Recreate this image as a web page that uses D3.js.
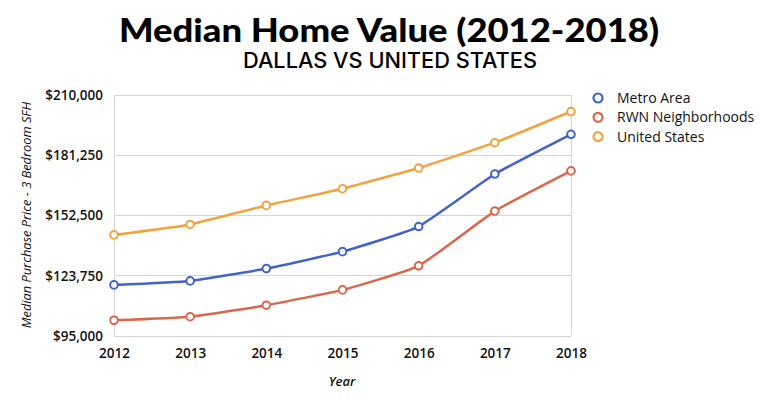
<!DOCTYPE html>
<html>
<head>
<meta charset="utf-8">
<script src="https://cdn.jsdelivr.net/npm/d3@7"></script>
<style>
  body { margin: 0; background: #fff; }
  svg { display: block; }
</style>
</head>
<body>
<svg id="chart" width="764" height="399"></svg>
<script>
// data
const years = [2012, 2013, 2014, 2015, 2016, 2017, 2018];
const metroArea = [119200, 121100, 127000, 135100, 147100, 172200, 191200];
const rwnNeighborhoods = [102300, 104000, 109500, 116800, 128300, 154500, 173700];
const unitedStates = [143100, 148100, 157200, 165200, 175100, 187200, 202100];
const yTicks = [95000, 123750, 152500, 181250, 210000];
const seriesNames = ["Metro Area", "RWN Neighborhoods", "United States"];
const seriesColors = ["#4263c9", "#d9674e", "#f3a33e"];

const series = [metroArea, rwnNeighborhoods, unitedStates].map((vals, i) => ({
  name: seriesNames[i],
  color: seriesColors[i],
  points: years.map((y, j) => ({year: y, value: vals[j]}))
}));

const svg = d3.select("#chart");
const margin = {left: 114, right: 193, top: 95, bottom: 63.5};
const W = 764, H = 399;

const x = d3.scaleLinear()
  .domain([years[0], years[years.length - 1]])
  .range([margin.left, W - margin.right]);
const y = d3.scaleLinear()
  .domain([yTicks[0], yTicks[yTicks.length - 1]])
  .range([H - margin.bottom, margin.top]);

// titles
svg.append("text")
  .attr("x", 389).attr("y", 42)
  .attr("text-anchor", "middle")
  .attr("font-family", "Lato, sans-serif")
  .attr("font-weight", 900)
  .attr("font-size", 32)
  .attr("textLength", 540)
  .attr("lengthAdjust", "spacingAndGlyphs")
  .attr("fill", "#000")
  .text("Median Home Value (2012-2018)");

svg.append("text")
  .attr("x", 390).attr("y", 68)
  .attr("text-anchor", "middle")
  .attr("font-family", "Inter, sans-serif")
  .attr("font-weight", 500)
  .attr("font-size", 21)
  .attr("textLength", 294)
  .attr("lengthAdjust", "spacingAndGlyphs")
  .attr("fill", "#000")
  .text("DALLAS VS UNITED STATES");

// gridlines
svg.append("g")
  .attr("class", "grid")
  .selectAll("line")
  .data(yTicks)
  .enter()
  .append("line")
  .attr("x1", x.range()[0]).attr("x2", x.range()[1])
  .attr("y1", d => Math.round(y(d)) + 0.5)
  .attr("y2", d => Math.round(y(d)) + 0.5)
  .attr("stroke", "#d6d6d6")
  .attr("stroke-width", 1);

// plot frame (left and right edges)
[x.range()[0], x.range()[1]].forEach(px => {
  svg.append("line")
    .attr("x1", Math.round(px) + 0.5).attr("x2", Math.round(px) + 0.5)
    .attr("y1", y.range()[1]).attr("y2", y.range()[0])
    .attr("stroke", "#d6d6d6");
});

// y axis
const yAxis = svg.append("g")
  .attr("transform", `translate(${margin.left - 11}, 0)`)
  .call(d3.axisLeft(y).tickValues(yTicks).tickSize(0).tickFormat(d => "$" + d3.format(",")(d)));
yAxis.select(".domain").remove();
yAxis.selectAll("text")
  .attr("font-family", "'Open Sans', sans-serif")
  .attr("font-weight", 600)
  .attr("font-size", 13.5)
  .attr("fill", "#111")
  .attr("x", 0)
  .attr("dy", "0.35em");

// x axis
const xAxis = svg.append("g")
  .attr("transform", `translate(0, ${H - margin.bottom})`)
  .call(d3.axisBottom(x).tickValues(years).tickSize(0).tickFormat(d3.format("d")));
xAxis.select(".domain").remove();
xAxis.selectAll("text")
  .attr("font-family", "'Open Sans', sans-serif")
  .attr("font-weight", 600)
  .attr("font-size", 13.5)
  .attr("fill", "#111")
  .attr("y", 22.5)
  .attr("dy", 0);

// axis titles
svg.append("text")
  .attr("x", 342).attr("y", 386)
  .attr("text-anchor", "middle")
  .attr("font-family", "'Open Sans', sans-serif")
  .attr("font-style", "italic")
  .attr("font-weight", 600)
  .attr("font-size", 13)
  .attr("fill", "#111")
  .text("Year");

svg.append("text")
  .attr("transform", `translate(31, 215) rotate(-90)`)
  .attr("text-anchor", "middle")
  .attr("font-family", "'Open Sans', sans-serif")
  .attr("font-style", "italic")
  .attr("font-size", 12.8)
  .attr("fill", "#111")
  .text("Median Purchase Price - 3 Bedroom SFH");

// lines, only lightly smoothed
const line = d3.line()
  .curve(d3.curveCardinal.tension(0.6))
  .x(d => x(d.year))
  .y(d => y(d.value));

svg.append("g")
  .selectAll("path")
  .data(series)
  .enter()
  .append("path")
  .attr("d", d => line(d.points))
  .attr("fill", "none")
  .attr("stroke", d => d.color)
  .attr("stroke-width", 2.5);

// markers
series.forEach(s => {
  svg.append("g")
    .selectAll("circle")
    .data(s.points)
    .enter()
    .append("circle")
    .attr("cx", d => x(d.year))
    .attr("cy", d => y(d.value))
    .attr("r", 3.8)
    .attr("fill", "#fff")
    .attr("stroke", s.color)
    .attr("stroke-width", 2);
});

// legend
const legend = svg.append("g")
  .attr("transform", "translate(598, 98)")
  .selectAll("g")
  .data(series)
  .enter()
  .append("g")
  .attr("transform", (d, i) => `translate(0, ${i * 19.3})`);

legend.append("circle")
  .attr("r", 4.5)
  .attr("fill", "#fff")
  .attr("stroke", d => d.color)
  .attr("stroke-width", 2.2);

legend.append("text")
  .attr("x", 19)
  .attr("y", 5)
  .attr("font-family", "'Open Sans', sans-serif")
  .attr("font-weight", 500)
  .attr("font-size", 14)
  .attr("fill", "#111")
  .text(d => d.name);
</script>
</body>
</html>
